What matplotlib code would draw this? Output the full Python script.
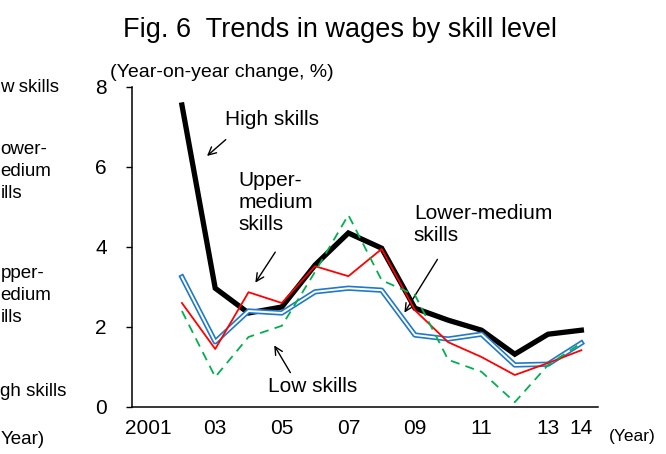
import matplotlib
matplotlib.use("Agg")
import matplotlib.pyplot as plt

plt.rcParams['font.family'] = ['Liberation Sans', 'DejaVu Sans']

# データ（前年比、%）
years = list(range(2002, 2015))
high = [7.55, 2.97, 2.35, 2.5, 3.55, 4.35, 3.97, 2.47, 2.17, 1.92, 1.32, 1.82, 1.92]
upper_medium = [2.6, 1.45, 2.87, 2.6, 3.52, 3.27, 3.95, 2.42, 1.62, 1.25, 0.8, 1.1, 1.42]
lower_medium = [3.25, 1.63, 2.4, 2.35, 2.88, 2.97, 2.92, 1.8, 1.7, 1.82, 1.05, 1.07, 1.6]
low = [2.4, 0.75, 1.75, 2.03, 3.38, 4.8, 3.17, 2.8, 1.18, 0.88, 0.12, 1.05, 1.6]

xticks = [2001, 2003, 2005, 2007, 2009, 2011, 2013, 2014]
xticklabels = ['2001', '03', '05', '07', '09', '11', '13', '14']
yticks = [0, 2, 4, 6, 8]

W, H = 666, 454
fig = plt.figure(figsize=(W / 100, H / 100), dpi=100)
ax = fig.add_axes([132 / W, 1 - 407 / H, (598 - 132) / W, (407 - 87) / H])

# 線の描画
ax.plot(years, high, color='black', lw=3.8, solid_joinstyle='miter', zorder=2)
ax.plot(years, lower_medium, color='#1F78C8', lw=3.8, zorder=3)
ax.plot(years, lower_medium, color='white', lw=1.4, zorder=3.1)
ax.plot(years, upper_medium, color='#FF0000', lw=1.3, zorder=4)
ax.plot(years, low, color='#00B050', lw=1.3, ls=(0, (5, 3.5)), zorder=5)

ax.set_xlim(2000.5, 2014.5)
ax.set_ylim(0, 8)
ax.set_xticks(xticks)
ax.set_xticklabels(xticklabels, fontsize=15)
ax.set_yticks(yticks)
ax.tick_params(axis='x', length=0, pad=9)
ax.tick_params(axis='y', length=4, width=1, direction='out', pad=14, labelsize=15)
for s in ['top', 'right']:
    ax.spines[s].set_visible(False)
for s in ['left', 'bottom']:
    ax.spines[s].set_linewidth(1.1)

# 注釈
arr = dict(arrowstyle='->', color='black', lw=1, mutation_scale=14)
ax.text(2003.29, 7.18, 'High skills', fontsize=15, va='center', ha='left')
ax.annotate('', xy=(2002.69, 6.23), xytext=(2003.38, 6.73), arrowprops=arr)
ax.text(2003.71, 5.1, 'Upper-\nmedium\nskills', fontsize=15, va='center', ha='left',
        linespacing=1.2)
ax.annotate('', xy=(2004.16, 3.05), xytext=(2004.85, 3.93), arrowprops=arr)
ax.text(2008.97, 4.56, 'Lower-medium\nskills', fontsize=15, va='center', ha='left',
        linespacing=1.2)
ax.annotate('', xy=(2008.64, 2.3), xytext=(2009.72, 3.75), arrowprops=arr)
ax.text(2004.58, 0.5, 'Low skills', fontsize=15, va='center', ha='left')
ax.annotate('', xy=(2004.73, 1.6), xytext=(2005.3, 0.8), arrowprops=arr)

# タイトルと単位
fig.text(340 / W, 1 - 37 / H, 'Fig. 6  Trends in wages by skill level', fontsize=19.5,
         ha='center', va='baseline')
fig.text(110 / W, 1 - 77 / H, '(Year-on-year change, %)', fontsize=14,
         ha='left', va='baseline')
fig.text(609 / W, 1 - 437 / H, '(Year)', fontsize=12.5, ha='left', va='center')

# 左側の図の切れ端
frags = [('w skills', 87), ('ower-', 150), ('edium', 172), ('ills', 194),
         ('pper-', 273), ('edium', 295), ('ills', 318), ('gh skills', 392),
         ('Year)', 439)]
for t, py in frags:
    fig.text(0.5 / W, 1 - py / H, t, fontsize=13.5, ha='left', va='center')

fig.savefig('out.png', dpi=100)
